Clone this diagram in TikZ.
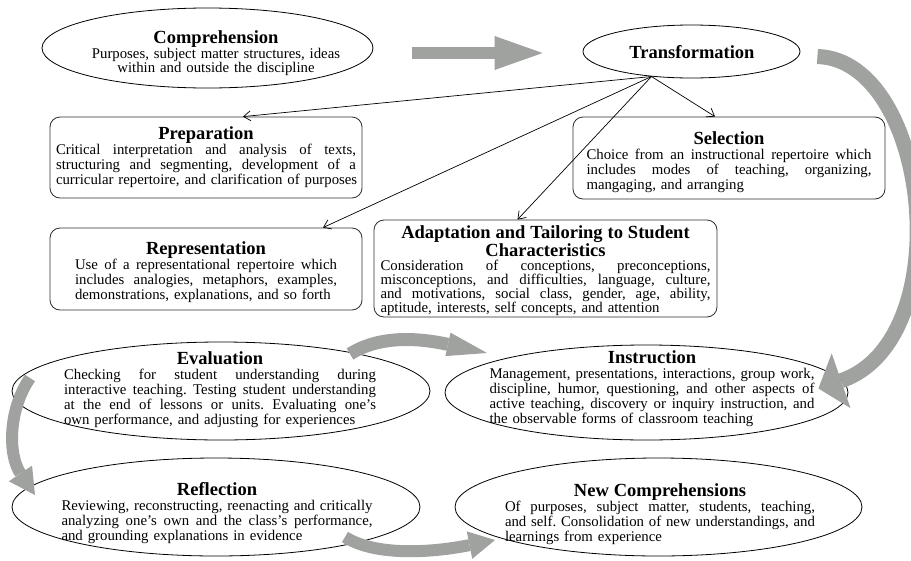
\documentclass[tikz,border=0pt]{standalone}
\usepackage{fontspec}
\setmainfont{Liberation Serif}
\usetikzlibrary{arrows.meta,shapes.geometric,calc}
\definecolor{arrowgray}{RGB}{160,162,160}
\definecolor{edgecol}{RGB}{45,45,45}
\newcommand\titlefont{\fontsize{18.5}{19}\selectfont\bfseries}
\newcommand\bodyfont{\fontsize{14.8}{15}\selectfont\parindent=0pt\frenchspacing\relax}
\newcommand\adaptfont{\fontsize{14.8}{14}\selectfont\parindent=0pt\frenchspacing\relax}
\newcommand\compfont{\fontsize{14.8}{14}\selectfont\parindent=0pt\relax}
\newcommand\ttl[1]{\leavevmode\hbox to\hsize{\hfil\titlefont #1\hfil}\\}
\newcommand\ttlr[2]{\leavevmode\hbox to\hsize{\hfil\rule{0pt}{#1}\titlefont #2\hfil}\\}
\newcommand\jl[1]{\leavevmode\hbox to\hsize{\spaceskip=0.25em plus 1fil\relax #1}\\}
\newcommand\lastl[1]{\leavevmode\hbox to\hsize{#1\hss}}
\tikzset{
  box/.style={draw=edgecol, line width=0.8pt, rounded corners=10pt, inner sep=0pt, align=left, font=\bodyfont},
  oval/.style={draw=black, ellipse, line width=0.8pt, inner sep=0pt},
  txt/.style={inner sep=0pt, align=left, font=\bodyfont, anchor=north},
  flow/.style={draw=black, line width=0.7pt, -{Straight Barb[length=7pt,width=10pt]}},
  garrow/.style={draw=arrowgray}
}
\begin{document}
\begin{tikzpicture}[x=1pt,y=-1pt]
\useasboundingbox (0,0) rectangle (911,560);

% top row
\node[oval, minimum width=331pt, minimum height=80pt] (comp) at (207.5,48) {};
\node[txt, align=center, text width=262pt, font=\compfont] (compt) at (216,30)
  {{\titlefont Comprehension}\\ Purposes, subject matter structures, ideas\\ within and outside the discipline};
\node[oval, minimum width=217pt, minimum height=53pt] (trans) at (691.5,51.5) {};
\node[inner sep=0pt, font=\titlefont] (transt) at (692,52) {Transformation};

% boxes
\node[box, minimum width=312pt, minimum height=81pt, text width=300pt] (prep) at (206,157.5)
  {\ttl{Preparation}\jl{Critical interpretation and analysis of texts,}\jl{structuring and segmenting, development of a}\lastl{curricular repertoire, and clarification of purposes}};
\node[box, minimum width=312pt, minimum height=82pt, text width=285pt] (sel) at (729,158)
  {\ttlr{21pt}{Selection}\jl{Choice from an instructional repertoire which}\jl{includes modes of teaching, organizing,}\lastl{mangaging, and arranging}};
\node[box, minimum width=312pt, minimum height=82pt, text width=262pt] (rep) at (206,269)
  {\ttlr{19pt}{Representation}\jl{Use of a representational repertoire which}\jl{includes analogies, metaphors, examples,}\lastl{demonstrations, explanations, and so forth}};
\node[box, minimum width=343pt, minimum height=97pt, text width=330pt, font=\adaptfont] (adapt) at (545.5,268.5)
  {\ttlr{18pt}{Adaptation and Tailoring to Student}\ttl{Characteristics}\jl{Consideration of conceptions, preconceptions,}\jl{misconceptions, and difficulties, language, culture,}\jl{and motivations, social class, gender, age, ability,}\lastl{aptitude, interests, self concepts, and attention}};

% lower ellipses
\node[oval, minimum width=418pt, minimum height=98pt] (eval) at (221,391) {};
\node[txt, text width=312pt] (evalt) at (220,351)
  {\ttl{Evaluation}\jl{Checking for student understanding during}\jl{interactive teaching. Testing student understanding}\jl{at the end of lessons or units. Evaluating one's}\lastl{own performance, and adjusting for experiences}};
\node[oval, minimum width=403pt, minimum height=95pt] (instr) at (646.5,392.5) {};
\node[txt, text width=325pt] (instrt) at (652,350)
  {\ttl{Instruction}\jl{Management, presentations, interactions, group work,}\jl{discipline, humor, questioning, and other aspects of}\jl{active teaching, discovery or inquiry instruction, and}\lastl{the observable forms of classroom teaching}};
\node[oval, minimum width=408pt, minimum height=98pt] (refl) at (216,507) {};
\node[txt, text width=311pt] (reflt) at (217,482)
  {\ttl{Reflection}\jl{Reviewing, reconstructing, reenacting and critically}\jl{analyzing one's own and the class's performance,}\lastl{and grounding explanations in evidence}};
\node[oval, minimum width=407pt, minimum height=98pt] (newc) at (658.5,507) {};
\node[txt, text width=310pt] (newct) at (660,483)
  {\ttl{New Comprehensions}\jl{Of purposes, subject matter, students, teaching,}\jl{and self. Consolidation of new understandings, and}\lastl{learnings from experience}};

% thin arrows from Transformation
\draw[flow] (trans.212) -- ($(prep.north)+(37,0)$);
\draw[flow] (trans.212) -- ($(sel.north)+(-14,0)$);
\draw[flow] (trans.212) -- ($(rep.north)+(117,0)$);
\draw[flow] (trans.212) -- ($(adapt.north)+(-28,0)$);

% big gray arrows
\coordinate (g1s) at ($(comp.east)+(39,5)$);
\coordinate (g1e) at ($(trans.west)+(-40,1.5)$);
\draw[garrow, line width=12pt, -{Triangle[length=48pt,width=34pt,line width=0pt]}] (g1s) -- (g1e);

\coordinate (g2s) at ($(trans.east)+(17,5)$);
\coordinate (g2e) at ($(instr.east)+(-30,-4)$);
\draw[garrow, line width=15pt, -{Triangle[length=24pt,width=58pt,line width=0pt]}]
  (g2s) .. controls (930,60) and (960,340) .. (g2e);

\coordinate (g3s) at (350,354);
\coordinate (g3e) at (487,353);
\draw[garrow, line width=13pt, -{Triangle[length=40pt,width=24pt,line width=0pt]}]
  (g3s) .. controls (375,338) and (410,336) .. (g3e);

\coordinate (g4s) at (30,378);
\coordinate (g4e) at (35,495);
\draw[garrow, line width=12pt, -{Triangle[length=26pt,width=28pt,line width=0pt]}]
  (g4s) .. controls (8,410) and (8,455) .. (g4e);

\coordinate (g5s) at (345,537);
\coordinate (g5e) at (495,540);
\draw[garrow, line width=12pt, -{Triangle[length=26pt,width=28pt,line width=0pt]}]
  (g5s) .. controls (375,556) and (430,553) .. (g5e);
\end{tikzpicture}
\end{document}
